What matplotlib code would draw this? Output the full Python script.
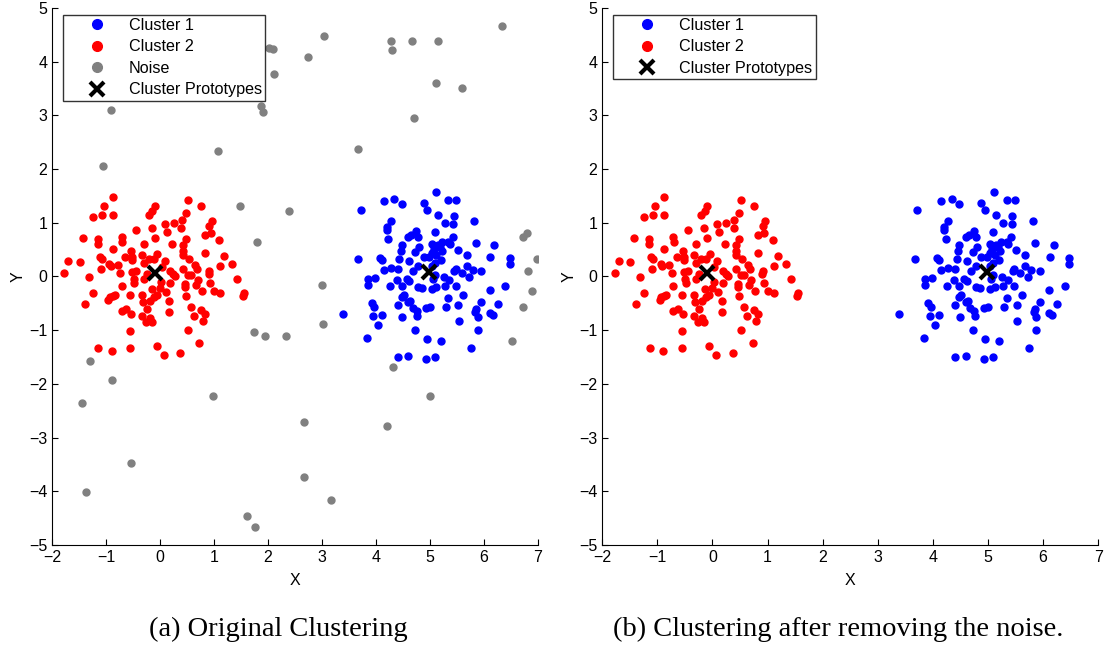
import matplotlib
matplotlib.use("Agg")
import matplotlib.pyplot as plt
from matplotlib.lines import Line2D

plt.rcParams['font.family'] = ['Liberation Sans', 'DejaVu Sans']

# cluster 2 (red)
red_x = [-0.88, -1.04, -1.24, -1.08, -0.88, -0.09, -0.14, -0.20, -1.43, -1.15, -1.15, -0.71, -0.70,
         -0.44, -0.15, -0.10, -0.29, -0.88, -0.54, -1.70, -1.49, -1.77, -1.11, -1.08, -0.94, -0.91,
         -0.78, -0.65, -0.52, -0.52, -0.33, -0.20, -0.11, -0.30, -0.05, -0.74, -0.52, -0.44, -0.49,
         -0.48, -0.25, -0.30, -1.31, -1.10, -0.71, -1.24, -1.39, -0.93, -0.88, -0.96, -0.84, -0.55,
         -0.33, -0.32, -0.19, -0.12, -0.06, -0.14, -0.71, -0.63, -0.53, -0.24, -0.34, -0.19, -0.26,
         -0.15, -0.56, -1.14, -0.89, -0.56, -0.06,
         0.51, 0.75, 0.49, 0.40, 0.25, 0.09, 0.12, 0.39, 0.96, 0.91, 0.83, 0.94, 0.49, 1.10, 0.22,
         0.42, 0.43, 0.43, 0.54, 0.83, 1.19, 1.11, 1.33, 0.09, 0.65, 0.68, 0.43, 0.19, 0.24, 0.28,
         0.51, 0.57, 0.91, 0.90, 1.43, 0.70, 0.67, 0.46, 0.46, 0.19, 0.93, 0.77, 1.00, 1.12, 1.56,
         1.53, 0.48, 0.11, 0.17, 0.17, 0.57, 0.63, 0.75, 0.83, 0.80, 0.52, 0.73, 0.07, 0.37,
         0.02, 0.00, 0.03]
red_y = [1.48, 1.32, 1.10, 1.15, 1.14, 1.31, 1.21, 1.14, 0.72, 0.69, 0.61, 0.73, 0.64,
         0.86, 0.91, 0.72, 0.61, 0.52, 0.48, 0.28, 0.27, 0.06, 0.36, 0.32, 0.24, 0.19,
         0.22, 0.37, 0.36, 0.30, 0.40, 0.33, 0.32, 0.25, 0.42, 0.07, 0.09, 0.11, -0.04,
         -0.12, 0.05, -0.04, -0.01, 0.14, -0.17, -0.31, -0.52, -0.39, -0.37, -0.43, -0.34, -0.34,
         -0.35, -0.48, -0.46, -0.39, -0.35, -0.24, -0.65, -0.61, -0.70, -0.61, -0.74, -0.78, -0.85,
         -0.85, -1.02, -1.33, -1.38, -1.34, -1.30,
         1.42, 1.32, 1.19, 1.05, 1.00, 0.97, 0.83, 0.90, 1.03, 0.94, 0.78, 0.80, 0.70, 0.68, 0.60,
         0.58, 0.47, 0.39, 0.33, 0.44, 0.38, 0.20, 0.24, 0.28, 0.22, 0.14, 0.14, 0.11, 0.05, 0.00,
         0.03, 0.03, 0.11, 0.04, -0.04, -0.07, -0.15, -0.14, -0.20, -0.12, -0.13, -0.28, -0.27, -0.31, -0.31,
         -0.37, -0.37, -0.29, -0.46, -0.66, -0.57, -0.73, -0.63, -0.70, -0.83, -0.99, -1.23, -1.47, -1.43,
         -0.10, -0.22, 0.17]

# cluster 1 (blue)
blue_x = [5.11, 4.34, 4.14, 4.48, 4.88, 4.94, 3.72, 5.14, 4.27, 4.20, 4.21, 4.74, 4.65, 4.60, 4.78,
          5.09, 4.23, 4.48, 4.46, 4.80, 4.72, 5.03, 5.07, 5.03, 3.67, 4.07, 4.12, 4.43, 4.62, 4.88,
          4.99, 4.15, 4.28, 4.41, 4.69, 4.78, 3.85, 3.98, 3.85, 4.26, 4.38, 4.48, 4.57, 4.62, 4.78,
          4.86, 5.03, 4.48, 4.52, 4.60, 4.63, 4.41, 3.92, 3.97, 4.68, 4.75, 4.76, 4.93, 5.00, 3.39,
          3.95, 4.12, 4.49, 4.04, 4.73, 3.84, 4.94, 4.41, 4.60, 4.93, 5.03,
          5.34, 5.49, 5.44, 5.27, 5.43, 5.81, 5.42, 5.34, 5.23, 5.19, 5.22, 5.51, 5.86, 6.19, 5.68,
          6.12, 6.48, 6.48, 5.68, 5.79, 5.94, 5.45, 5.48, 5.59, 5.72, 5.25, 5.28, 5.36, 5.48, 5.61,
          6.11, 6.39, 5.34, 5.30, 5.52, 5.94, 6.25, 5.86, 5.83, 5.88, 6.11, 6.17, 5.53, 5.88, 5.20,
          5.75, 5.09, 5.15, 5.37, 5.12, 5.12, 5.10, 5.05, 5.20, 5.10]
blue_y = [1.57, 1.45, 1.40, 1.35, 1.37, 1.24, 1.23, 1.15, 1.04, 0.92, 0.86, 0.84, 0.78, 0.74, 0.74,
          0.83, 0.69, 0.58, 0.47, 0.55, 0.45, 0.61, 0.52, 0.43, 0.33, 0.35, 0.30, 0.32, 0.28, 0.37,
          0.36, 0.12, 0.15, 0.14, 0.11, 0.19, -0.04, -0.03, -0.15, -0.17, -0.06, -0.17, -0.04, -0.09, -0.19,
          -0.22, -0.23, -0.39, -0.35, -0.48, -0.45, -0.53, -0.50, -0.56, -0.59, -0.65, -0.74, -0.59, -0.57, -0.69,
          -0.73, -0.71, -0.76, -0.91, -0.99, -1.15, -1.17, -1.50, -1.49, -1.53, 0.19,
          1.43, 1.42, 1.12, 0.99, 0.97, 1.03, 0.73, 0.64, 0.65, 0.55, 0.47, 0.50, 0.62, 0.58, 0.39,
          0.36, 0.35, 0.24, 0.19, 0.12, 0.10, 0.11, 0.14, 0.06, -0.01, -0.01, -0.17, -0.06, -0.17, -0.34,
          -0.26, -0.17, -0.40, -0.57, -0.53, -0.48, -0.51, -0.60, -0.66, -0.76, -0.68, -0.71, -0.82, -0.99, -1.21,
          -1.33, -1.50, 0.58, 0.61, 0.39, -0.20, 0.02, -0.05, 0.30, 0.25]

# noise (grey)
noise_x = [-0.91, 2.01, 2.09, 2.11, 1.87, 1.90, 2.74, 3.04, 4.28, 4.30, 4.67, 5.15, 6.33, 5.11,
           5.59, 4.70, 3.67, 1.07, -1.06, 1.49, 1.79, 1.74, 2.39, 1.94, 2.33, 3.00, 3.02, 4.31,
           4.20, 5.00, 2.67, 2.67, 3.17, 1.61, 1.76, 0.98, -0.54, -1.37, -1.44, -0.89, -1.30,
           6.98, 6.73, 6.79, 6.82, 6.88, 6.72, 6.51]
noise_y = [3.09, 4.26, 4.24, 3.76, 3.17, 3.07, 4.08, 4.47, 4.39, 4.21, 4.39, 4.39, 4.66, 3.61,
           3.50, 2.94, 2.38, 2.33, 2.05, 1.31, 0.65, -1.04, 1.21, -1.10, -1.10, -0.15, -0.88, -1.69,
           -2.79, -2.23, -2.70, -3.74, -4.17, -4.45, -4.66, -2.23, -3.48, -4.02, -2.36, -1.92, -1.58,
           0.33, 0.74, 0.81, 0.11, -0.27, -0.56, -1.20]

# prototypes
proto_x = [-0.09, 4.99]
proto_y = [0.07, 0.08]

xticks = list(range(-2, 8))
yticks = list(range(-5, 6))

BLUE = (0, 0, 1)
RED = (1, 0, 0)
GREY = (0.5, 0.5, 0.5)

fig = plt.figure(figsize=(11.07, 6.52), dpi=100)
ax1 = fig.add_axes([0.047, 0.164, 0.439, 0.824])
ax2 = fig.add_axes([0.544, 0.164, 0.448, 0.824])


def style(ax):
    ax.set_xlim(-2, 7)
    ax.set_ylim(-5, 5)
    ax.set_xticks(xticks)
    ax.set_yticks(yticks)
    ax.spines['top'].set_visible(False)
    ax.spines['right'].set_visible(False)
    ax.tick_params(direction='in', length=4, labelsize=11.5, top=False, right=False)
    ax.set_xlabel('X', fontsize=11.5, labelpad=6)
    ax.set_ylabel('Y', fontsize=11.5, labelpad=2)


def draw(ax, with_noise):
    ax.plot(blue_x, blue_y, 'o', color=BLUE, markersize=5, linestyle='none')
    ax.plot(red_x, red_y, 'o', color=RED, markersize=5, linestyle='none')
    if with_noise:
        ax.plot(noise_x, noise_y, 'o', color=GREY, markersize=5, linestyle='none')
    ax.plot(proto_x, proto_y, 'x', color='k', markersize=10, mew=3, linestyle='none')


draw(ax1, True)
draw(ax2, False)
style(ax1)
style(ax2)

h_blue = Line2D([], [], marker='o', color=BLUE, markersize=7, linestyle='none')
h_red = Line2D([], [], marker='o', color=RED, markersize=7, linestyle='none')
h_grey = Line2D([], [], marker='o', color=GREY, markersize=7, linestyle='none')
h_x = Line2D([], [], marker='x', color='k', markersize=10, mew=3, linestyle='none')

for ax, handles, labels in [
        (ax1, [h_blue, h_red, h_grey, h_x], ['Cluster 1', 'Cluster 2', 'Noise', 'Cluster Prototypes']),
        (ax2, [h_blue, h_red, h_x], ['Cluster 1', 'Cluster 2', 'Cluster Prototypes'])]:
    leg = ax.legend(handles, labels, loc='upper left', bbox_to_anchor=(0.022, 0.987),
                    fontsize=11.6, frameon=True, fancybox=False, borderpad=0.2,
                    labelspacing=0.4, handletextpad=0.1, borderaxespad=0, handlelength=3.8)
    leg.get_frame().set_edgecolor('k')
    leg.get_frame().set_linewidth(1.0)

fig.text(0.251, 0.034, '(a) Original Clustering', ha='center', va='center',
         fontsize=20.5, family='Liberation Serif')
fig.text(0.757, 0.034, '(b) Clustering after removing the noise.', ha='center', va='center',
         fontsize=20.5, family='Liberation Serif')

fig.savefig('out.png', dpi=100)
